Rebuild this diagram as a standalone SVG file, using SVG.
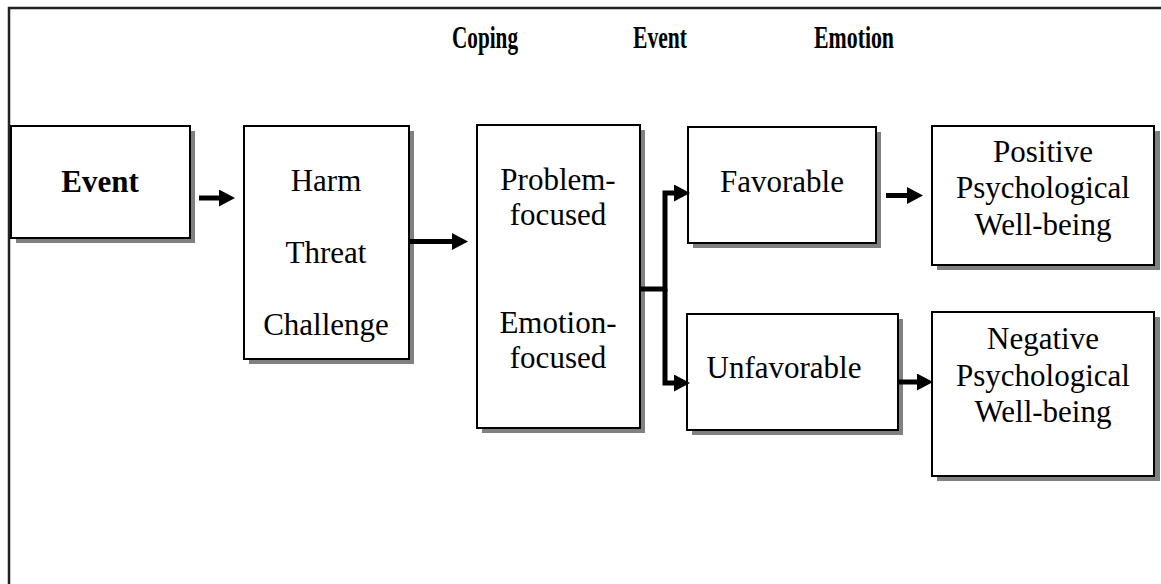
<svg xmlns="http://www.w3.org/2000/svg" width="1161" height="584" viewBox="0 0 1161 584">
<style>
.box{fill:#fff;stroke:#000;stroke-width:2}
.sh{fill:#808080}
.t{font-family:"Liberation Serif","Times New Roman",serif;font-size:31px;fill:#000;text-anchor:middle}
.b{font-weight:bold}
.h{font-size:31px}
.conn{fill:none;stroke:#000;stroke-width:5}
</style>
<defs>
<marker id="ah" viewBox="0 0 16 17" markerWidth="16" markerHeight="17" refX="0" refY="8.5" markerUnits="userSpaceOnUse" orient="auto">
<path d="M0,0 L16,8.5 L0,17 Z" fill="#000"/>
</marker>
</defs>
<rect x="0" y="0" width="1161" height="584" fill="#fff"/>
<path d="M9,584 V8 H1161" fill="none" stroke="#222" stroke-width="2.5"/>
<g id="headers">
<text class="t b h" x="485" y="48" textLength="66" lengthAdjust="spacingAndGlyphs">Coping</text>
<text class="t b h" x="660" y="48" textLength="54" lengthAdjust="spacingAndGlyphs">Event</text>
<text class="t b h" x="854" y="48" textLength="80" lengthAdjust="spacingAndGlyphs">Emotion</text>
</g>
<g id="node-event">
<rect class="sh" x="16" y="131" width="179" height="112"/>
<rect class="box" x="11" y="126" width="179" height="112"/>
<text class="t b" x="100" y="192">Event</text>
</g>
<g id="node-appraisal">
<rect class="sh" x="249" y="131" width="165" height="233"/>
<rect class="box" x="244" y="126" width="165" height="233"/>
<text class="t" x="326" y="191">Harm</text>
<text class="t" x="326" y="263">Threat</text>
<text class="t" x="326" y="335">Challenge</text>
</g>
<g id="node-coping">
<rect class="sh" x="482" y="130" width="163" height="303"/>
<rect class="box" x="477" y="125" width="163" height="303"/>
<text class="t" x="558" y="190">Problem-</text>
<text class="t" x="558" y="225">focused</text>
<text class="t" x="558" y="333">Emotion-</text>
<text class="t" x="558" y="368">focused</text>
</g>
<g id="node-favorable">
<rect class="sh" x="693" y="132" width="188" height="116"/>
<rect class="box" x="688" y="127" width="188" height="116"/>
<text class="t" x="782" y="192">Favorable</text>
</g>
<g id="node-unfavorable">
<rect class="sh" x="692" y="319" width="211" height="116"/>
<rect class="box" x="687" y="314" width="211" height="116"/>
<text class="t" x="784" y="378">Unfavorable</text>
</g>
<g id="node-positive">
<rect class="sh" x="937" y="131" width="223" height="139"/>
<rect class="box" x="932" y="126" width="222" height="139"/>
<text class="t" x="1043" y="162">Positive</text>
<text class="t" x="1043" y="198">Psychological</text>
<text class="t" x="1043" y="235">Well-being</text>
</g>
<g id="node-negative">
<rect class="sh" x="937" y="317" width="223" height="164"/>
<rect class="box" x="932" y="312" width="222" height="164"/>
<text class="t" x="1043" y="349">Negative</text>
<text class="t" x="1043" y="386">Psychological</text>
<text class="t" x="1043" y="422">Well-being</text>
</g>
<g id="connectors">
<path class="conn" d="M199,198 H219" marker-end="url(#ah)"/>
<path class="conn" d="M409,241.5 H452" marker-end="url(#ah)"/>
<path class="conn" d="M640,289 H665 V193 H674" marker-end="url(#ah)"/>
<path class="conn" d="M665,289 V383 H674" marker-end="url(#ah)"/>
<path class="conn" d="M886,195.5 H907" marker-end="url(#ah)"/>
<path class="conn" d="M898,382 H917" marker-end="url(#ah)"/>
</g>
</svg>
